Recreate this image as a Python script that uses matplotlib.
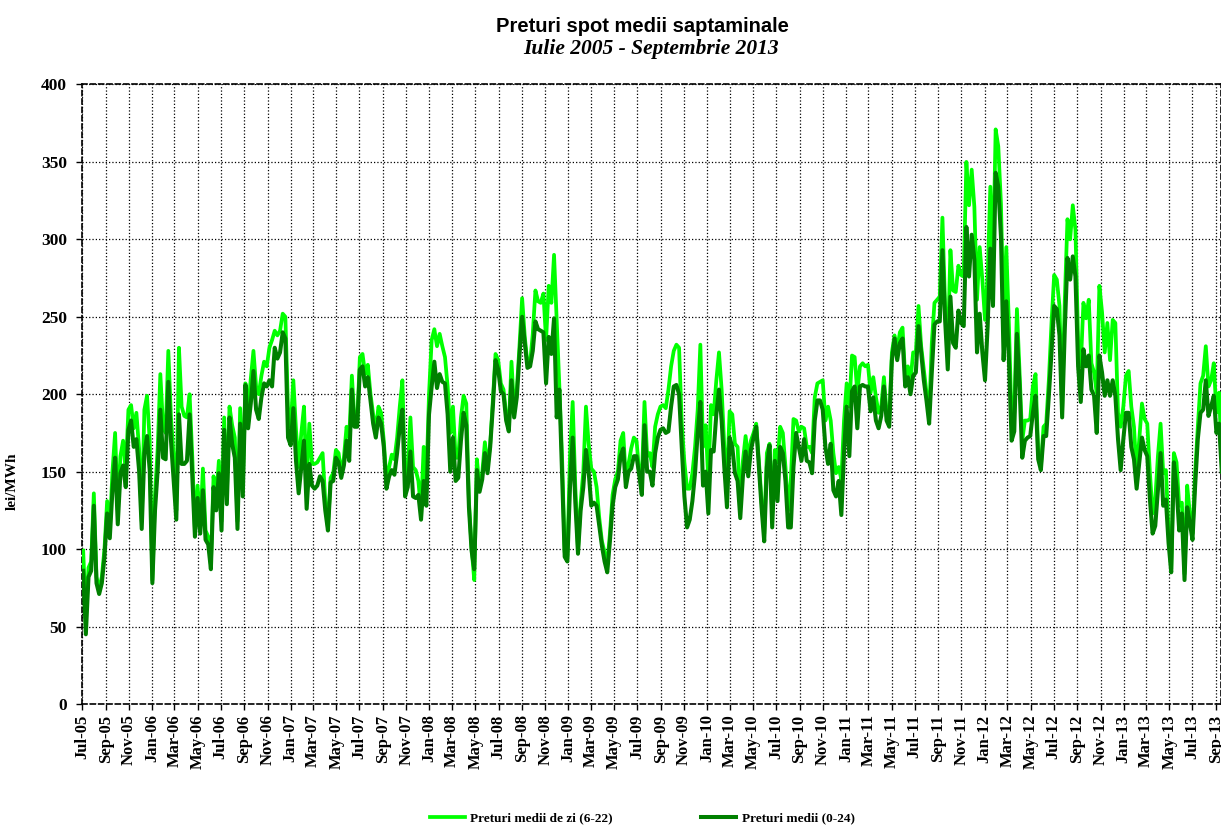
import numpy as np
import pandas as pd
import matplotlib
matplotlib.use("Agg")
import matplotlib.pyplot as plt
import matplotlib.dates as mdates

# preturi medii (0-24), saptamanal, din iulie 2005
pret_0_24 = [
    # 2005 - 2006
    86, 45, 82, 86, 128, 78, 71, 78, 95, 123, 107, 138, 159, 116, 149,
    154, 140, 177, 183, 166, 171, 151, 113, 162, 173, 151, 78, 125, 151, 190,
    159, 158, 208, 170, 145, 119, 187, 155, 155, 157, 187, 147, 108, 133, 110,
    138, 106, 103, 87, 140, 125, 149, 112, 177, 129, 185, 168, 159, 113, 181,
    134, 206, 178, 194, 215, 190, 184, 198, 207, 205, 209,
    # 2006 - 2008
    205, 230, 223, 227, 240, 236, 172, 167, 191, 157, 136, 153, 170, 126, 155,
    141, 139, 141, 147, 144, 125, 112, 143, 144, 159, 156, 146, 154, 170, 157,
    203, 179, 179, 216, 218, 205, 211, 196, 181, 172, 185, 181, 166, 139, 147,
    151, 148, 162, 179, 190, 134, 140, 163, 134, 133, 135, 119, 144, 128, 187,
    205, 221, 204, 213, 208, 207, 187, 150, 172, 144, 146,
    # 2008 - 2009
    170, 188, 180, 127, 99, 87, 151, 137, 145, 162, 149, 166, 192, 222, 216,
    202, 200, 183, 176, 209, 185, 198, 225, 250, 233, 217, 218, 228, 247, 242,
    241, 240, 207, 237, 226, 249, 185, 203, 150, 95, 92, 140, 172, 130, 97,
    125, 140, 164, 150, 128, 130, 128, 115, 102, 92, 85, 105, 128, 140, 145,
    160, 165, 140, 150, 152, 160, 160, 148, 135, 180, 150, 150,
    # 2009 - 2010
    141, 162, 172, 177, 178, 175, 176, 192, 205, 206, 200, 166, 134, 114, 119,
    131, 149, 175, 195, 141, 150, 123, 164, 163, 187, 203, 183, 153, 127, 172,
    166, 149, 144, 120, 147, 163, 147, 164, 172, 179, 153, 127, 105, 153, 167,
    114, 157, 131, 166, 162, 144, 114, 114, 153, 175, 166, 157, 171, 157, 156,
    149, 183, 196, 196, 190, 166, 155, 168, 138, 134, 144,
    # 2011 - 2012
    122, 162, 192, 160, 202, 205, 178, 205, 206, 205, 205, 189, 198, 183, 178,
    186, 205, 183, 179, 222, 236, 222, 233, 236, 205, 211, 200, 212, 214, 244,
    227, 209, 196, 181, 214, 245, 247, 247, 293, 248, 216, 263, 233, 230, 254,
    246, 244, 308, 276, 303, 287, 227, 252, 227, 209, 244, 294, 257, 343, 334,
    302, 222, 260, 222, 170, 176, 239, 205, 159, 170, 172,
    # 2012 - 2013
    173, 188, 199, 158, 151, 173, 173, 199, 227, 257, 255, 238, 185, 242, 288,
    274, 289, 276, 218, 195, 229, 218, 225, 203, 199, 175, 225, 214, 199, 209,
    199, 209, 199, 171, 151, 171, 188, 188, 166, 158, 139, 156, 172, 164, 160,
    132, 110, 115, 138, 162, 128, 132, 104, 85, 156, 140, 112, 123, 80, 127,
    117, 106, 141, 171, 188, 190, 209, 186, 192, 199, 175, 181, 150,
]

# preturi medii de zi (6-22)
pret_6_22 = [
    # 2005 - 2006
    99, 55, 88, 92, 136, 82, 74, 82, 100, 131, 112, 150, 175, 125, 160,
    170, 150, 190, 193, 178, 188, 165, 118, 190, 199, 170, 80, 135, 165, 213,
    180, 175, 228, 185, 160, 125, 230, 192, 186, 185, 200, 160, 112, 141, 115,
    152, 112, 108, 90, 147, 132, 157, 118, 185, 135, 192, 180, 172, 118, 191,
    142, 207, 190, 210, 228, 205, 200, 212, 221, 218, 230,
    # 2006 - 2008
    235, 241, 238, 241, 252, 250, 190, 179, 209, 177, 153, 175, 192, 144, 181,
    155, 155, 156, 159, 162, 131, 114, 146, 149, 164, 162, 149, 159, 179, 172,
    212, 183, 181, 224, 226, 213, 219, 200, 187, 177, 192, 188, 170, 144, 153,
    161, 158, 172, 192, 209, 144, 149, 185, 153, 151, 144, 125, 166, 144, 200,
    235, 242, 231, 239, 231, 224, 205, 175, 192, 159, 159,
    # 2008 - 2009
    185, 199, 194, 131, 101, 80, 158, 139, 149, 169, 153, 168, 196, 226, 222,
    207, 203, 187, 179, 221, 190, 203, 231, 262, 237, 220, 220, 239, 267, 260,
    259, 265, 235, 270, 259, 290, 248, 205, 160, 98, 95, 160, 195, 140, 100,
    130, 150, 192, 168, 152, 150, 140, 120, 105, 98, 90, 110, 135, 145, 150,
    170, 175, 145, 155, 165, 172, 170, 150, 145, 195, 160, 162,
    # 2009 - 2010
    153, 179, 187, 192, 193, 191, 203, 218, 228, 232, 230, 181, 156, 139, 139,
    149, 166, 190, 232, 166, 180, 144, 193, 187, 209, 227, 203, 166, 144, 189,
    187, 168, 166, 127, 157, 173, 159, 170, 175, 181, 157, 131, 110, 162, 168,
    123, 164, 156, 179, 175, 153, 125, 144, 184, 183, 176, 179, 178, 166, 166,
    162, 198, 207, 208, 209, 183, 192, 183, 162, 149, 153,
    # 2011 - 2012
    145, 183, 207, 192, 225, 224, 201, 218, 220, 218, 219, 201, 211, 198, 188,
    192, 211, 188, 183, 227, 238, 229, 240, 243, 211, 218, 209, 227, 227, 257,
    231, 216, 201, 186, 233, 259, 261, 263, 314, 257, 227, 293, 267, 266, 283,
    277, 276, 350, 322, 345, 321, 261, 295, 274, 248, 276, 334, 280, 371, 360,
    323, 248, 295, 244, 183, 188, 255, 214, 170, 183, 183,
    # 2012 - 2013
    184, 205, 213, 162, 153, 179, 181, 209, 246, 277, 274, 257, 190, 261, 313,
    300, 322, 306, 235, 218, 259, 249, 261, 220, 214, 201, 270, 253, 227, 246,
    222, 248, 246, 188, 179, 192, 212, 215, 192, 179, 149, 171, 194, 184, 181,
    149, 123, 132, 160, 181, 149, 151, 112, 87, 162, 156, 128, 130, 84, 141,
    123, 110, 149, 179, 207, 212, 231, 205, 209, 220, 188, 201, 157,
]

saptamani = pd.date_range("2005-07-04", periods=len(pret_0_24), freq="7D")

serif = ["Liberation Serif", "DejaVu Serif"]

fig = plt.figure(figsize=(12.21, 8.25), dpi=100)
ax = fig.add_axes([0.0672, 0.1467, 0.9328, 0.7509])

ax.plot(saptamani, pret_6_22, color="#00ff00", lw=2.7, label="Preturi medii de zi (6-22)", zorder=3)
ax.plot(saptamani, pret_0_24, color="#008000", lw=2.9, label="Preturi medii (0-24)", zorder=4)

ax.set_xlim(pd.Timestamp("2005-07-01"), pd.Timestamp("2013-09-14"))
ax.set_ylim(0, 400)
ax.set_yticks(range(0, 401, 50))
ax.xaxis.set_major_locator(mdates.MonthLocator(bymonth=[1, 3, 5, 7, 9, 11]))
ax.xaxis.set_major_formatter(mdates.DateFormatter("%b-%y"))

ax.grid(True, color="black", linestyle=":", linewidth=0.9)
for s in ax.spines.values():
    s.set_linestyle((0, (3, 2)))
    s.set_linewidth(1.2)

ax.tick_params(axis="both", direction="out", length=4, width=1)
ax.tick_params(axis="y", pad=7)
for lbl in ax.get_xticklabels():
    lbl.set_rotation(90)
    lbl.set_fontfamily(serif)
    lbl.set_fontweight("bold")
    lbl.set_fontsize(12)
for lbl in ax.get_yticklabels():
    lbl.set_fontfamily(serif)
    lbl.set_fontweight("bold")
    lbl.set_fontsize(12.5)

ax.set_ylabel("lei/MWh", family=serif, fontweight="bold", fontsize=11)
ax.yaxis.set_label_coords(-0.056, 0.36)

fig.text(0.526, 0.968, "Preturi spot medii saptaminale", ha="center", va="center",
         family=["Liberation Sans", "DejaVu Sans"], fontweight="bold", fontsize=14.5)
fig.text(0.533, 0.941, "Iulie 2005 - Septembrie 2013", ha="center", va="center",
         family=serif, fontweight="bold", fontstyle="italic", fontsize=15.5)

leg = fig.legend(loc="lower center", bbox_to_anchor=(0.526, -0.014), ncol=2, frameon=False,
                 handlelength=2.65, columnspacing=6.7, handletextpad=0.4,
                 prop={"family": serif, "weight": "bold", "size": 9.5})

fig.savefig("out.png", dpi=100)
